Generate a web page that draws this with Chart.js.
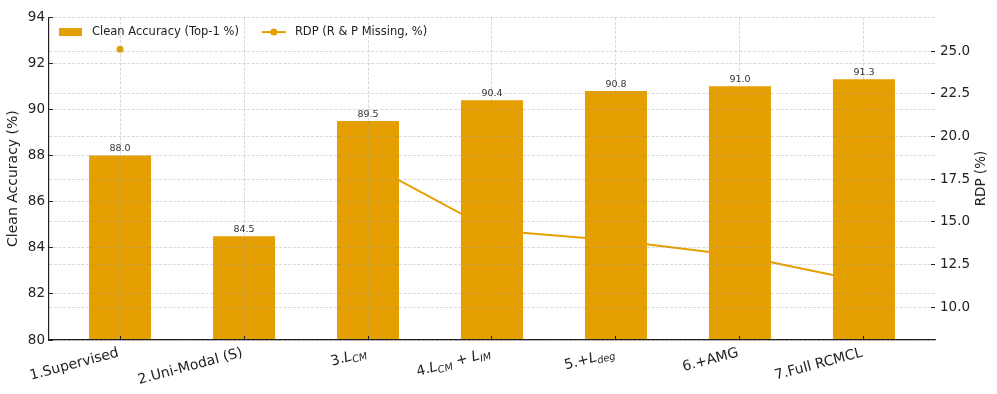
<!DOCTYPE html>
<html>
<head>
<meta charset="utf-8">
<script src="https://cdn.jsdelivr.net/npm/chart.js@4.4.1/dist/chart.umd.min.js"></script>
<style>
  html, body { margin: 0; padding: 0; background: #fff; }
  #wrap { width: 997px; height: 394px; }
</style>
</head>
<body>
<div id="wrap"><canvas id="chart" width="997" height="394"></canvas></div>
<script>
// -----------------------------
// DATA
// -----------------------------
const categories = [
    "1.Supervised",
    "2.Uni-Modal (S)",
    "3.L_{CM}",
    "4.L_{CM} + L_{IM}",
    "5.+L_{deg}",
    "6.+AMG",
    "7.Full RCMCL"
];
const accuracy = [88.0, 84.5, 89.5, 90.4, 90.8, 91.0, 91.3];
const rdp = [25.1, null, 18.4, 14.5, 13.9, 13.0, 11.5];

const accTicks = [80, 82, 84, 86, 88, 90, 92, 94];
const rdpTicks = [10.0, 12.5, 15.0, 17.5, 20.0, 22.5, 25.0];

const accLabel = "Clean Accuracy (Top-1 %)";
const rdpLabel = "RDP (R & P Missing, %)";

// -----------------------------
// STYLE
// -----------------------------
const ORANGE = "#E69F00";
const INK = "#222";
const GRID = "rgba(150,150,150,0.45)";
const FONT = "'DejaVu Sans', sans-serif";

Chart.defaults.font.family = FONT;
Chart.defaults.color = INK;

// split "L_{CM}" style markup into normal / italic / subscript pieces
function parseLabel(text) {

    const parts = [];
    const re = /([A-Za-z])_\{([^}]*)\}/g;
    let last = 0;
    let m;

    while ((m = re.exec(text))) {
        if (m.index > last) parts.push({ t: text.slice(last, m.index) });
        parts.push({ t: m[1], it: true });
        parts.push({ t: m[2], it: true, sub: true });
        last = re.lastIndex;
    }
    if (last < text.length) parts.push({ t: text.slice(last) });
    return parts;
}

function partFont(p) {
    if (p.sub) return `italic 9.8px ${FONT}`;
    if (p.it) return `italic 14px ${FONT}`;
    return `14px ${FONT}`;
}

// -----------------------------
// OVERLAY: x labels, value labels, right title, legend
// -----------------------------
const overlay = {
    id: "overlay",
    afterDraw(chart) {

        const ctx = chart.ctx;
        const area = chart.chartArea;
        const xs = chart.scales.x;
        const y2 = chart.scales.y2;

        // value labels above bars
        ctx.save();
        ctx.font = `9.5px ${FONT}`;
        ctx.fillStyle = "#333";
        ctx.textAlign = "center";
        ctx.textBaseline = "alphabetic";
        chart.getDatasetMeta(0).data.forEach((bar, i) => {
            ctx.fillText(accuracy[i].toFixed(1), bar.x, bar.y - 4);
        });
        ctx.restore();

        // rotated category labels, right end anchored at the tick
        const ang = 15 * Math.PI / 180;
        categories.forEach((label, i) => {

            const parts = parseLabel(label);
            let total = 0;
            parts.forEach(p => {
                ctx.font = partFont(p);
                p.w = ctx.measureText(p.t).width;
                total += p.w;
            });

            const px = xs.getPixelForValue(i);
            ctx.save();
            ctx.translate(px - 0.7, area.bottom + 6 + 10.2);
            ctx.rotate(-ang);
            ctx.fillStyle = INK;
            ctx.textAlign = "left";
            ctx.textBaseline = "alphabetic";
            let cx = -total;
            parts.forEach(p => {
                ctx.font = partFont(p);
                ctx.fillText(p.t, cx, p.sub ? 2.8 : 0);
                cx += p.w;
            });
            ctx.restore();
        });

        // right axis title, reading bottom to top
        ctx.save();
        ctx.translate(981, (y2.top + y2.bottom) / 2);
        ctx.rotate(-Math.PI / 2);
        ctx.font = `13.5px ${FONT}`;
        ctx.fillStyle = INK;
        ctx.textAlign = "center";
        ctx.textBaseline = "middle";
        ctx.fillText("RDP (%)", 0, 0);
        ctx.restore();

        // legend inside the plot, top left
        ctx.save();
        let lx = area.left + 10;
        const cy = area.top + 15;
        ctx.font = `11.5px ${FONT}`;
        ctx.textAlign = "left";
        ctx.textBaseline = "middle";

        ctx.fillStyle = ORANGE;
        ctx.fillRect(lx, cy - 4, 23, 8);
        lx += 33;
        ctx.fillStyle = INK;
        ctx.fillText(accLabel, lx, cy);
        lx += ctx.measureText(accLabel).width + 23;

        ctx.strokeStyle = ORANGE;
        ctx.lineWidth = 2;
        ctx.beginPath();
        ctx.moveTo(lx, cy);
        ctx.lineTo(lx + 24, cy);
        ctx.stroke();
        ctx.fillStyle = ORANGE;
        ctx.beginPath();
        ctx.arc(lx + 12, cy, 3.5, 0, Math.PI * 2);
        ctx.fill();
        lx += 33;
        ctx.fillStyle = INK;
        ctx.fillText(rdpLabel, lx, cy);
        ctx.restore();
    }
};

// -----------------------------
// CHART
// -----------------------------
const gridOpts = {
    color: GRID,
    lineWidth: 0.8,
    z: 1,
    tickLength: -4,
    tickColor: INK,
    tickWidth: 1
};

new Chart(document.getElementById("chart"), {
    type: "bar",
    data: {
        datasets: [
            {
                type: "bar",
                label: accLabel,
                data: accuracy.map((v, i) => ({ x: i, y: v })),
                backgroundColor: ORANGE,
                borderWidth: 0,
                barPercentage: 0.5,
                categoryPercentage: 1.0,
                yAxisID: "y",
                order: 0
            },
            {
                type: "line",
                label: rdpLabel,
                data: rdp.map((v, i) => ({ x: i, y: v })),
                borderColor: ORANGE,
                backgroundColor: ORANGE,
                borderWidth: 2,
                pointRadius: 3.5,
                pointBorderWidth: 0,
                spanGaps: false,
                tension: 0,
                yAxisID: "y2",
                order: 1
            }
        ]
    },
    options: {
        responsive: false,
        animation: false,
        devicePixelRatio: 1,
        layout: { padding: { top: 14, left: 0, right: 0, bottom: 0 } },
        plugins: {
            legend: { display: false },
            tooltip: { enabled: false }
        },
        scales: {
            x: {
                type: "linear",
                min: -0.573,
                max: 6.573,
                offset: false,
                afterBuildTicks: s => { s.ticks = categories.map((_, i) => ({ value: i })); },
                afterFit: s => { s.height = 54; },
                ticks: { display: false },
                grid: Object.assign({}, gridOpts, { offset: false }),
                border: { display: true, color: INK, width: 1.2, dash: [3, 1.6], z: 2 }
            },
            y: {
                position: "left",
                min: 80,
                max: 94,
                afterBuildTicks: s => { s.ticks = accTicks.map(v => ({ value: v })); },
                afterFit: s => { s.width = 49; },
                ticks: { font: { size: 13.5 }, color: INK, padding: 8 },
                grid: gridOpts,
                border: { display: true, color: INK, width: 1.2, dash: [3, 1.6], z: 2 },
                title: {
                    display: true,
                    text: "Clean Accuracy (%)",
                    font: { size: 14 },
                    color: INK,
                    padding: { top: 5, bottom: 0 }
                }
            },
            y2: {
                position: "right",
                min: 8.07,
                max: 26.99,
                afterBuildTicks: s => { s.ticks = rdpTicks.map(v => ({ value: v })); },
                afterFit: s => { s.width = 62; },
                ticks: {
                    font: { size: 13.5 },
                    color: INK,
                    padding: 9,
                    callback: v => Number(v).toFixed(1)
                },
                grid: gridOpts,
                border: { display: false, dash: [3, 1.6] }
            }
        }
    },
    plugins: [overlay]
});
</script>
</body>
</html>
